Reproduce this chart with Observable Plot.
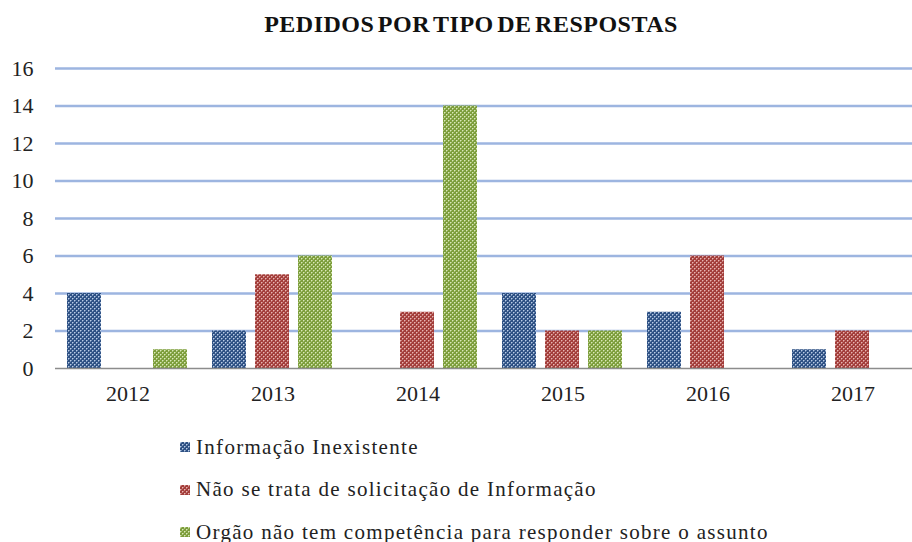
<!DOCTYPE html>
<html>
<head>
<meta charset="utf-8">
<script src="https://cdn.jsdelivr.net/npm/d3@7"></script>
<script src="https://cdn.jsdelivr.net/npm/@observablehq/plot@0.6"></script>
<style>
  body { margin: 0; background: #fff; font-family: "Liberation Serif", "DejaVu Serif", serif; overflow: hidden; }
  #title { height: 50px; box-sizing: border-box; padding-top: 11px; text-align: center; font-weight: bold; font-size: 24px; color: #111; padding-left: 30px; letter-spacing: 0.5px; word-spacing: -3px; }
  #chart { width: 912px; height: 375px; overflow: hidden; }
  #chart svg { max-width: none !important; width: 925px; height: 375px; display: block; }
  #legend { position: relative; margin-left: 180px; margin-top: 1px; }
  .item { height: 42.5px; display: flex; align-items: center; font-size: 21px; letter-spacing: 1.3px; color: #222; font-family: "Liberation Serif", serif; }
  .item svg { margin-right: 6px; }
</style>
</head>
<body>
<div id="title">PEDIDOS POR TIPO DE RESPOSTAS</div>
<div id="chart"></div>
<div id="legend"></div>
<script>
const years = ["2012", "2013", "2014", "2015", "2016", "2017"];
const seriesNames = [
  "Informação Inexistente",
  "Não se trata de solicitação de Informação",
  "Orgão não tem competência para responder sobre o assunto"
];
const inexistente = [4, 2, 0, 4, 3, 1];
const naoSeTrata = [0, 5, 3, 2, 6, 2];
const orgao = [1, 6, 14, 2, 0, 0];
const yTicks = [0, 2, 4, 6, 8, 10, 12, 14, 16];

const patternIds = ["pBlue", "pRed", "pGreen"];
const patternColors = [
  ["#2e5184", "#b8cbe6"],
  ["#a33e3b", "#e8b4b2"],
  ["#7d9e3c", "#d9e8b8"]
];

const seriesValues = [inexistente, naoSeTrata, orgao];
const data = [];
years.forEach((yr, i) => {
  seriesNames.forEach((s, j) => data.push({year: yr, series: s, value: seriesValues[j][i]}));
});

function patternDefs(prefix) {
  return patternIds.map((id, k) => {
    const [dark, light] = patternColors[k];
    return `<pattern id="${prefix}${id}" width="4" height="4" patternUnits="userSpaceOnUse">
      <rect width="4" height="4" fill="${dark}"/>
      <rect x="0" y="0" width="1" height="1" fill="${light}"/>
      <rect x="2" y="2" width="1" height="1" fill="${light}"/>
      <rect x="1" y="0" width="1" height="1" fill="${light}" opacity="0.5"/>
      <rect x="3" y="2" width="1" height="1" fill="${light}" opacity="0.5"/>
      <rect x="0" y="1" width="1" height="1" fill="${light}" opacity="0.5"/>
      <rect x="2" y="3" width="1" height="1" fill="${light}" opacity="0.5"/>
    </pattern>`;
  }).join("");
}

const chart = Plot.plot({
  width: 925,
  height: 375,
  marginTop: 18,
  marginBottom: 57,
  marginLeft: 55,
  marginRight: 0,
  style: {fontFamily: "'Liberation Serif', 'DejaVu Serif', serif", fontSize: "22px", color: "#222", background: "white"},
  fx: {domain: years, padding: 0, label: null},
  x: {domain: seriesNames, paddingInner: 0.2, paddingOuter: 0.286, axis: null},
  y: {domain: [0, 16], label: null},
  color: {domain: seriesNames, range: patternIds.map(id => `url(#${id})`)},
  marks: [
    Plot.gridY(yTicks.filter(d => d > 0), {stroke: "#9db5e0", strokeOpacity: 1, strokeWidth: 2.5}),
    Plot.axisY({ticks: yTicks, tickSize: 0, tickPadding: 22, label: null, fontSize: 22}),
    Plot.axisFx({anchor: "bottom", tickSize: 0, tickPadding: 17, label: null, fontSize: 22, style: {letterSpacing: "0.5px"}}),
    Plot.barY(data, {fx: "year", x: "series", y: "value", fill: "series"}),
    Plot.ruleY([0], {stroke: "#8c8c8c", strokeWidth: 1.5})
  ]
});

const defs = document.createElementNS("http://www.w3.org/2000/svg", "defs");
defs.innerHTML = patternDefs("");
chart.insertBefore(defs, chart.firstChild);
document.getElementById("chart").appendChild(chart);

const legend = document.getElementById("legend");
seriesNames.forEach((s, k) => {
  const div = document.createElement("div");
  div.className = "item";
  div.innerHTML = `<svg width="10" height="10"><defs>${patternDefs("l" + k)}</defs><rect width="10" height="10" fill="url(#l${k}${patternIds[k]})"/></svg><span>${s}</span>`;
  legend.appendChild(div);
});
</script>
</body>
</html>
